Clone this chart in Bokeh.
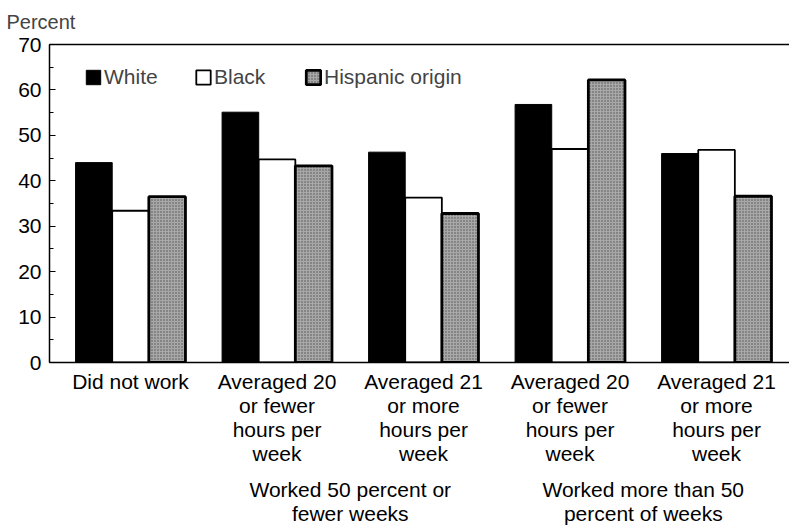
from bokeh.plotting import figure
from bokeh.models import (ColumnDataSource, Range1d, LinearAxis, FixedTicker,
                          SingleIntervalTicker, Legend, LegendItem)
from bokeh.transform import dodge
from bokeh.embed import file_html
from bokeh.resources import INLINE

categories = ["Did not work",
              "Averaged 20\nor fewer\nhours per\nweek",
              "Averaged 21\nor more\nhours per\nweek",
              "Averaged 20\nor fewer\nhours per\nweek",
              "Averaged 21\nor more\nhours per\nweek"]
group_labels = ["Worked 50 percent or\nfewer weeks",
                "Worked more than 50\npercent of weeks"]
group_positions = [1.5, 3.5]
white = [44.0, 55.1, 46.3, 56.8, 46.0]
black = [33.4, 44.7, 36.3, 47.0, 46.8]
hispanic = [36.5, 43.3, 32.8, 62.2, 36.6]
y_ticks_interval = 10

FONT = "Liberation Sans"

src = ColumnDataSource(dict(idx=list(range(len(categories))),
                            white=white, black=black, hispanic=hispanic))

p = figure(width=789, height=527, output_backend="svg", toolbar_location=None,
           x_range=Range1d(-0.553, 4.498), y_range=Range1d(0, 70),
           x_axis_type=None, y_axis_type=None,
           min_border_left=49, min_border_right=0, min_border_top=43,
           min_border_bottom=162)
p.outline_line_color = None
p.xgrid.visible = False
p.ygrid.visible = False
p.background_fill_color = "white"
p.border_fill_color = "white"

# Title "Percent"
p.title.text = "Percent"
p.title.align = "left"
p.title.vertical_align = "top"
p.title.offset = -43
p.title.text_font = FONT
p.title.text_font_style = "normal"
p.title.text_font_size = "20px"
p.title.text_line_height = 1.0
p.title.standoff = 20

w = 0.25
r_w = p.vbar(x=dodge("idx", -w, range=p.x_range), top="white", width=w, source=src,
             fill_color="black", line_color="black", line_width=1)
r_b = p.vbar(x=dodge("idx", 0, range=p.x_range), top="black", width=w, source=src,
             fill_color="white", line_color="black", line_width=1.8)
r_h = p.vbar(x=dodge("idx", w, range=p.x_range), top="hispanic", width=w, source=src,
             fill_color="#a8a8a8", line_color="black", line_width=2.8,
             hatch_pattern="dot", hatch_color="#505050", hatch_scale=3, hatch_weight=1)

# Left axis
yax = LinearAxis(ticker=SingleIntervalTicker(interval=y_ticks_interval, num_minor_ticks=2))
yax.major_tick_in = 6
yax.major_tick_out = 0
yax.minor_tick_in = 4
yax.minor_tick_out = 0
yax.axis_line_width = 1.5
yax.major_tick_line_width = 1.2
yax.major_label_standoff = 8
yax.major_label_text_font = FONT
yax.major_label_text_font_size = "21px"
yax.major_label_text_color = "black"
p.add_layout(yax, "left")

# Top line
tax = LinearAxis(ticker=FixedTicker(ticks=[]))
tax.major_tick_in = 0
tax.major_tick_out = 0
tax.minor_tick_in = 0
tax.minor_tick_out = 0
tax.axis_line_width = 1.3
p.add_layout(tax, "above")

# Category axis
xax = LinearAxis(ticker=FixedTicker(ticks=list(range(len(categories)))),
                 major_label_overrides={i: c for i, c in enumerate(categories)})
xax.major_tick_in = 0
xax.major_tick_out = 0
xax.minor_tick_in = 0
xax.minor_tick_out = 0
xax.axis_line_width = 1.6
xax.major_label_standoff = 7
xax.major_label_text_font = FONT
xax.major_label_text_font_size = "21px"
xax.major_label_text_line_height = 1.05
xax.major_label_text_color = "black"
p.add_layout(xax, "below")

# Group axis
gax = LinearAxis(ticker=FixedTicker(ticks=group_positions),
                 major_label_overrides={pos: g for pos, g in zip(group_positions, group_labels)})
gax.axis_line_color = None
gax.major_tick_in = 0
gax.major_tick_out = 0
gax.minor_tick_in = 0
gax.minor_tick_out = 0
gax.major_label_standoff = 10
gax.major_label_text_font = FONT
gax.major_label_text_font_size = "21px"
gax.major_label_text_line_height = 1.05
gax.major_label_text_color = "black"
p.add_layout(gax, "below")

legend = Legend(items=[LegendItem(label="White", renderers=[r_w]),
                       LegendItem(label="Black", renderers=[r_b]),
                       LegendItem(label="Hispanic origin", renderers=[r_h])],
                orientation="horizontal", location=(35, 273))
legend.border_line_color = None
legend.background_fill_alpha = 0
legend.glyph_width = 18
legend.glyph_height = 18
legend.label_standoff = 2
legend.label_width = 90
legend.label_height = 18
legend.spacing = 0
legend.padding = 0
legend.margin = 0
legend.label_text_font = FONT
legend.label_text_font_size = "21px"
p.add_layout(legend)

open("out.html", "w").write(file_html(p, INLINE))
